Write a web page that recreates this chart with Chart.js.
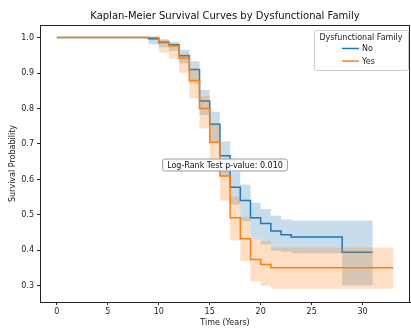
<!DOCTYPE html>
<html><head><meta charset="utf-8">
<script src="https://cdn.jsdelivr.net/npm/chart.js@4"></script>
<style>html,body{margin:0;padding:0;background:#fff}canvas{display:block}</style>
</head><body>
<canvas id="c" width="411" height="328"></canvas>
<script>
// ---- data ----
const chartTitle = "Kaplan-Meier Survival Curves by Dysfunctional Family";
const xAxisTitle = "Time (Years)";
const yAxisTitle = "Survival Probability";
const legendTitle = "Dysfunctional Family";
const groupNames = ["No", "Yes"];
const annotationText = "Log-Rank Test p-value: 0.010";

const timesNo  = [0, 9, 10, 11, 12, 13, 14, 15, 16, 17, 18, 19, 20, 21, 22, 23, 28, 31];
const survNo   = [1.0, 0.997, 0.986, 0.980, 0.949, 0.910, 0.821, 0.756, 0.667, 0.578, 0.541, 0.492, 0.476, 0.455, 0.444, 0.438, 0.395, 0.395];
const upperNo  = [1.0, 1.0, 0.994, 0.988, 0.966, 0.933, 0.852, 0.791, 0.707, 0.620, 0.585, 0.534, 0.517, 0.498, 0.487, 0.484, 0.484, 0.484];
const lowerNo  = [1.0, 0.981, 0.972, 0.962, 0.927, 0.871, 0.782, 0.707, 0.608, 0.529, 0.482, 0.431, 0.417, 0.400, 0.396, 0.392, 0.302, 0.302];

const timesYes = [0, 10, 11, 12, 13, 14, 15, 16, 17, 18, 19, 20, 21, 33];
const survYes  = [1.0, 0.988, 0.976, 0.942, 0.879, 0.800, 0.705, 0.610, 0.492, 0.433, 0.374, 0.360, 0.351, 0.351];
const upperYes = [1.0, 0.996, 0.983, 0.955, 0.913, 0.835, 0.758, 0.655, 0.552, 0.494, 0.431, 0.426, 0.408, 0.408];
const lowerYes = [1.0, 0.957, 0.941, 0.901, 0.829, 0.744, 0.646, 0.541, 0.428, 0.370, 0.313, 0.300, 0.292, 0.292];

const xTicks = [0, 5, 10, 15, 20, 25, 30];
const yTicks = [0.3, 0.4, 0.5, 0.6, 0.7, 0.8, 0.9, 1.0];

// ---- helpers ----
const pts = (t, v) => t.map((x, i) => ({x: x, y: v[i]}));
const BLUE = '#1f77b4', ORANGE = '#ff7f0e';
const BLUE_BAND = 'rgba(31,119,180,0.25)', ORANGE_BAND = 'rgba(255,127,14,0.25)';
const FONT = "'DejaVu Sans', sans-serif";
Chart.defaults.font.family = FONT;
Chart.defaults.font.size = 8;
Chart.defaults.color = '#222';

const lineDs = (label, data, color, order) => ({
  label, data, borderColor: color, backgroundColor: color, borderWidth: 1.5,
  stepped: true, pointRadius: 0, fill: false, order
});
const bandDs = (label, data, color, fill, order) => ({
  label, data, borderWidth: 0, borderColor: 'rgba(0,0,0,0)', backgroundColor: color,
  stepped: true, pointRadius: 0, fill, order
});

const framePlugin = {
  id: 'frame',
  afterDraw(chart) {
    const {ctx, chartArea: a} = chart;
    ctx.save();
    ctx.strokeStyle = '#222'; ctx.lineWidth = 1;
    ctx.beginPath();
    ctx.moveTo(a.left, a.top + 0.5); ctx.lineTo(a.right, a.top + 0.5);
    ctx.moveTo(a.right - 0.5, a.top); ctx.lineTo(a.right - 0.5, a.bottom);
    ctx.stroke();

    // annotation box at the centre of the axes
    ctx.font = '8px ' + FONT;
    const tw = ctx.measureText(annotationText).width;
    const cx = (a.left + a.right) / 2, cy = (a.top + a.bottom) / 2 + 1.5;
    const bw = tw + 9, bh = 12;
    ctx.beginPath();
    ctx.roundRect(cx - bw / 2, cy - bh / 2, bw, bh, 2);
    ctx.fillStyle = 'rgba(255,255,255,0.9)'; ctx.fill();
    ctx.strokeStyle = '#999'; ctx.lineWidth = 1; ctx.stroke();
    ctx.fillStyle = '#111'; ctx.textAlign = 'center'; ctx.textBaseline = 'middle';
    ctx.fillText(annotationText, cx, cy + 0.5);

    // legend
    const lw = 94, lh = 40;
    const lx = a.right - 2 - lw, ly = a.top + 5;
    ctx.beginPath();
    ctx.roundRect(lx + 0.5, ly + 0.5, lw, lh, 2);
    ctx.fillStyle = 'rgba(255,255,255,0.8)'; ctx.fill();
    ctx.strokeStyle = '#cccccc'; ctx.stroke();
    ctx.fillStyle = '#222'; ctx.textAlign = 'center';
    ctx.fillText(legendTitle, lx + lw / 2, ly + 7.5);
    const cols = [BLUE, ORANGE];
    groupNames.forEach((n, i) => {
      const y = ly + 18.5 + i * 12.6;
      ctx.strokeStyle = cols[i]; ctx.lineWidth = 1.5;
      ctx.beginPath(); ctx.moveTo(lx + 28, y); ctx.lineTo(lx + 45, y); ctx.stroke();
      ctx.fillStyle = '#222'; ctx.textAlign = 'left';
      ctx.fillText(n, lx + 48, y + 0.5);
    });
    ctx.restore();
  }
};

new Chart(document.getElementById('c'), {
  type: 'line',
  data: {
    datasets: [
      bandDs('No CI upper', pts(timesNo, upperNo), BLUE_BAND, '+1', 4),
      bandDs('No CI lower', pts(timesNo, lowerNo), BLUE_BAND, false, 4),
      lineDs(groupNames[0], pts(timesNo, survNo), BLUE, 5),
      bandDs('Yes CI upper', pts(timesYes, upperYes), ORANGE_BAND, '+1', 1),
      bandDs('Yes CI lower', pts(timesYes, lowerYes), ORANGE_BAND, false, 1),
      lineDs(groupNames[1], pts(timesYes, survYes), ORANGE, 2)
    ]
  },
  options: {
    responsive: false, animation: false, devicePixelRatio: 1,
    layout: {padding: {left: 0, right: 1, top: 0, bottom: 0}},
    plugins: {
      legend: {display: false},
      tooltip: {enabled: false},
      title: {
        display: true, text: chartTitle, fullSize: false, color: '#111',
        font: {size: 10, weight: 'normal', family: FONT},
        padding: {top: 10, bottom: 3}
      }
    },
    scales: {
      x: {
        type: 'linear', min: -1.65, max: 34.65,
        afterBuildTicks: s => { s.ticks = xTicks.map(v => ({value: v})); },
        afterFit: s => { s.height = 26; },
        ticks: {padding: 2, font: {size: 8}, color: '#222', callback: v => String(v)},
        grid: {drawOnChartArea: false, tickLength: 3, color: '#222'},
        border: {color: '#222', width: 1},
        title: {display: true, text: xAxisTitle, font: {size: 8}, color: '#222', padding: {top: 0, bottom: 0}}
      },
      y: {
        type: 'linear', min: 0.2545, max: 1.0355,
        afterBuildTicks: s => { s.ticks = yTicks.map(v => ({value: v})); },
        afterFit: s => { s.width = 40; },
        ticks: {padding: 3, font: {size: 8}, color: '#222', callback: v => v.toFixed(1)},
        grid: {drawOnChartArea: false, tickLength: 3, color: '#222'},
        border: {color: '#222', width: 1},
        title: {display: true, text: yAxisTitle, font: {size: 8}, color: '#222', padding: {top: 8, bottom: 0}}
      }
    }
  },
  plugins: [framePlugin]
});
</script>
</body></html>
